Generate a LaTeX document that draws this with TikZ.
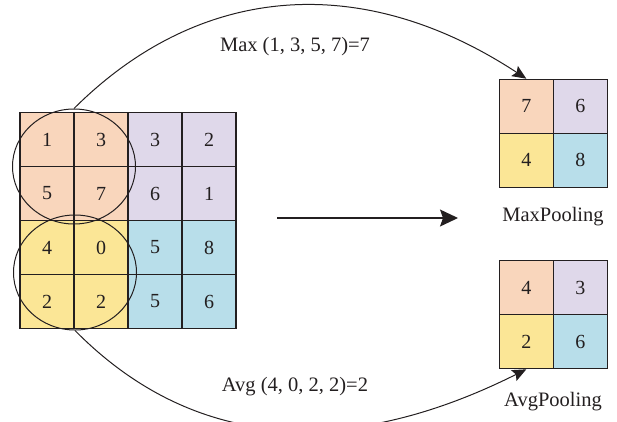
\documentclass[tikz,border=0pt]{standalone}
\usepackage{fontspec}
\setmainfont{Liberation Serif}
\usetikzlibrary{shapes.geometric,arrows.meta}

\definecolor{cellorange}{RGB}{249,214,188}
\definecolor{cellpurple}{RGB}{223,216,234}
\definecolor{cellyellow}{RGB}{251,230,150}
\definecolor{cellblue}{RGB}{184,222,234}
\definecolor{ink}{RGB}{35,31,32}

\tikzset{
  cell/.style={draw=ink, line width=1.2pt, minimum size=54pt, inner sep=0pt,
    font=\fontsize{20}{24}\selectfont, text=ink},
  orange/.style={cell, fill=cellorange},
  purple/.style={cell, fill=cellpurple},
  yellow/.style={cell, fill=cellyellow},
  blue/.style={cell, fill=cellblue},
  window/.style={ellipse, draw=ink, line width=1pt, inner sep=0pt,
    minimum width=123pt, minimum height=115pt},
  label/.style={font=\fontsize{20.5}{24}\selectfont, text=ink},
  link/.style={draw=ink, line width=1pt,
    -{Stealth[length=14pt,width=12pt,inset=2.5pt]}},
  bigarrow/.style={draw=ink, line width=1.2pt,
    -{Stealth[length=18pt,width=17pt,inset=3pt]}}
}

\begin{document}
\begin{tikzpicture}[x=1pt, y=-1pt]
  \useasboundingbox (0,0) rectangle (617,421);
  \clip (0,0) rectangle (617,421);

  % input feature map, 4x4
  \node[orange] (c11) at (47,139.5)  {1};
  \node[orange] (c12) at (101,139.5) {3};
  \node[purple] (c13) at (155,139.5) {3};
  \node[purple] (c14) at (209,139.5) {2};
  \node[orange] (c21) at (47,193.5)  {5};
  \node[orange] (c22) at (101,193.5) {7};
  \node[purple] (c23) at (155,193.5) {6};
  \node[purple] (c24) at (209,193.5) {1};
  \node[yellow] (c31) at (47,247.5)  {4};
  \node[yellow] (c32) at (101,247.5) {0};
  \node[blue]   (c33) at (155,247.5) {5};
  \node[blue]   (c34) at (209,247.5) {8};
  \node[yellow] (c41) at (47,301.5)  {2};
  \node[yellow] (c42) at (101,301.5) {2};
  \node[blue]   (c43) at (155,301.5) {5};
  \node[blue]   (c44) at (209,301.5) {6};

  % pooling windows
  \node[window] (wtop) at (74,166.5) {};
  \node[window] (wbot) at (75,272.5) {};

  % max pooling result
  \node[orange] (m11) at (526.3,106.3) {7};
  \node[purple] (m12) at (580.3,106.3) {6};
  \node[yellow] (m21) at (526.3,160.3) {4};
  \node[blue]   (m22) at (580.3,160.3) {8};
  \node[label]  (mlab) at (553,217) {MaxPooling};

  % average pooling result
  \node[orange] (a11) at (526.3,287.7) {4};
  \node[purple] (a12) at (580.3,287.7) {3};
  \node[yellow] (a21) at (526.3,341.7) {2};
  \node[blue]   (a22) at (580.3,341.7) {6};
  \node[label]  (alab) at (553,402) {AvgPooling};

  % operation labels
  \node[label] (maxop) at (295,47)  {Max (1, 3, 5, 7)=7};
  \node[label] (avgop) at (295,387) {Avg (4, 0, 2, 2)=2};

  % connectors
  \draw[link] (wtop.north) .. controls (200,-17) and (362,-29) .. (m11.north);
  \draw[link] (wbot.south) .. controls (205,462) and (365,450) .. (a21.south);

  \coordinate (ms) at (277,218);
  \coordinate (me) at (458,218);
  \draw[bigarrow] (ms) -- (me);
\end{tikzpicture}
\end{document}
